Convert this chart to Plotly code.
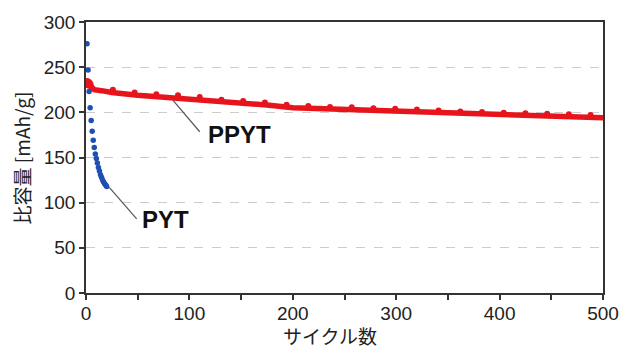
import plotly.graph_objects as go

# PYT: capacity falls quickly over the first 20 cycles
pyt_cycles = list(range(1, 21))
pyt_capacity = [276, 247, 223, 205, 191, 179, 169, 161, 154, 149,
                144, 139, 135, 131, 128, 125, 123, 121, 119.5, 118]

# PPYT: slow fade over 500 cycles
ppyt_cycles = [1, 2, 3, 5, 8, 15, 25, 50, 75, 100, 125, 150, 175, 200,
               225, 250, 275, 300, 325, 350, 375, 400, 425, 450, 475, 500]
ppyt_capacity = [233, 232, 231, 227, 225, 224, 222, 219, 217, 215, 212, 210, 208, 205,
                 204, 203, 202, 201, 200, 199, 198, 197, 196, 196, 195, 194]

# PPYT periodic points sitting slightly above the trend
ppyt_peak_cycles = [26, 47, 68, 89, 110, 131, 152, 173, 194, 215, 236, 257,
                    278, 299, 320, 341, 362, 383, 404, 425, 446, 467, 488]
ppyt_peak_capacity = [225, 222, 220, 219, 217, 214, 212.5, 211, 208.5, 207, 206, 205.5,
                      204.5, 204, 203, 202, 201, 200.5, 199.5, 199, 198.5, 198, 197]

ppyt_start_cycles = [1, 2, 3]
ppyt_start_capacity = [233, 232, 231]

x_tick_vals = [0, 100, 200, 300, 400, 500]
y_tick_vals = [0, 50, 100, 150, 200, 250, 300]

RED = "#e8141c"
BLUE = "#1f4fb0"
FONT = "Liberation Sans, Arial, sans-serif"
CJK_FONT = "Noto Sans CJK JP, Liberation Sans, sans-serif"
TEXT = "#222222"

fig = go.Figure()

fig.add_trace(go.Scatter(
    x=ppyt_cycles, y=ppyt_capacity, mode="lines",
    line=dict(color=RED, width=5.5), hoverinfo="skip", showlegend=False))
fig.add_trace(go.Scatter(
    x=ppyt_peak_cycles, y=ppyt_peak_capacity, mode="markers",
    marker=dict(color=RED, size=6), showlegend=False))
fig.add_trace(go.Scatter(
    x=ppyt_start_cycles, y=ppyt_start_capacity, mode="markers",
    marker=dict(color=RED, size=9), showlegend=False))
fig.add_trace(go.Scatter(
    x=pyt_cycles, y=pyt_capacity, mode="markers",
    marker=dict(color=BLUE, size=5.5), showlegend=False))

# leader lines and labels
fig.add_shape(type="line", x0=84, y0=213.5, x1=110, y1=178.5,
              line=dict(color="#555555", width=1.2))
fig.add_shape(type="line", x0=22.5, y0=117, x1=49, y1=82,
              line=dict(color="#555555", width=1.2))
fig.add_annotation(x=116, y=175, text="<b>PPYT</b>", showarrow=False,
                   xanchor="left", yanchor="middle",
                   font=dict(family=FONT, size=24, color="#111111"))
fig.add_annotation(x=52, y=81, text="<b>PYT</b>", showarrow=False,
                   xanchor="left", yanchor="middle",
                   font=dict(family=FONT, size=24, color="#111111"))

# axis titles
fig.add_annotation(xref="paper", yref="paper", x=0.472, y=-0.158,
                   text="サイクル数", showarrow=False,
                   xanchor="center", yanchor="middle",
                   font=dict(family=CJK_FONT, size=19, color=TEXT))
fig.add_annotation(xref="paper", yref="paper", x=-0.124, y=0.5,
                   text="比容量 [mAh/g]", showarrow=False, textangle=-90,
                   xanchor="center", yanchor="middle",
                   font=dict(family=CJK_FONT, size=19, color=TEXT))

axis_common = dict(
    showline=True, linecolor="#333333", linewidth=1.5, mirror=True,
    ticks="outside", ticklen=5, tickwidth=1.5, tickcolor="#333333",
    tickfont=dict(family=FONT, size=19, color=TEXT),
    zeroline=False,
)

fig.update_xaxes(
    range=[0, 500], tickvals=x_tick_vals, showgrid=False,
    ticklabelstandoff=-3,
    minor=dict(dtick=50, ticks="outside", ticklen=5, tickwidth=1.5,
               tickcolor="#333333", showgrid=False),
    **axis_common)
fig.update_yaxes(
    range=[0, 300], tickvals=y_tick_vals, showgrid=True,
    gridcolor="#cccccc", griddash="dash", gridwidth=1.2,
    **axis_common)

fig.update_layout(
    width=640, height=350,
    margin=dict(l=86, r=37, t=18, b=57),
    plot_bgcolor="white", paper_bgcolor="white",
)

fig.write_html("out.html")
